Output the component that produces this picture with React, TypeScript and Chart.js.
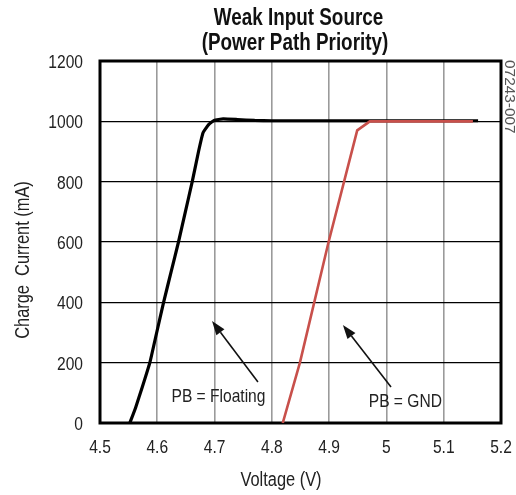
import React, { useEffect, useRef } from "react";
import { Chart, registerables } from "chart.js";

Chart.register(...registerables);

// ---- data ----
const floatingVoltage = [4.552, 4.562, 4.574, 4.587, 4.599, 4.611, 4.624, 4.637, 4.649, 4.661, 4.672, 4.680, 4.690, 4.699, 4.715, 4.740, 4.770, 4.800, 5.160];
const floatingCurrent = [0, 50, 120, 200, 300, 400, 500, 600, 700, 800, 900, 963, 990, 1003, 1008, 1006, 1003, 1002, 1002];

const gndVoltage = [4.819, 4.849, 4.899, 4.949, 4.971, 5.151];
const gndCurrent = [0, 200, 600, 970, 1000, 1000];

const xTickValues = [4.5, 4.6, 4.7, 4.8, 4.9, 5.0, 5.1, 5.2];
const xTickLabels = ["4.5", "4.6", "4.7", "4.8", "4.9", "5", "5.1", "5.2"];
const yTickValues = [0, 200, 400, 600, 800, 1000, 1200];
const yTickLabels = ["0", "200", "400", "600", "800", "1000", "1200"];

const titleLines = ["Weak Input Source", "(Power Path Priority)"];
const xTitle = "Voltage (V)";
const yTitle = "Charge  Current (mA)";
const figureCode = "07243-007";

const annotationLabels = ["PB = Floating", "PB = GND"];
const annotationLabelX = [4.7068, 5.033];
const annotationLabelY = [70, 53];
const arrowTipX = [4.6955, 4.924];
const arrowTipY = [338, 325];
const arrowTailX = [4.7757, 5.008];
const arrowTailY = [136, 119];

const FONT = "'Liberation Sans', Arial, sans-serif";
const NARROW = 0.82;

const toPoints = (xs: number[], ys: number[]) => xs.map((x, i) => ({ x, y: ys[i] }));

function narrowText(ctx: CanvasRenderingContext2D, text: string, x: number, y: number, rot = 0, sx = NARROW) {
  ctx.save();
  ctx.translate(x, y);
  if (rot) ctx.rotate(rot);
  ctx.scale(sx, 1);
  ctx.fillText(text, 0, 0);
  ctx.restore();
}

const decorPlugin = {
  id: "decor",
  beforeDatasetsDraw(chart: any) {
    const { ctx, chartArea } = chart;
    ctx.save();
    ctx.strokeStyle = "#000";
    ctx.lineWidth = 3;
    ctx.strokeRect(chartArea.left, chartArea.top, chartArea.right - chartArea.left, chartArea.bottom - chartArea.top);
    ctx.restore();
  },
  afterDraw(chart: any) {
    const { ctx, chartArea } = chart;
    const xs = chart.scales.x;
    const ys = chart.scales.y;
    ctx.save();
    // title
    ctx.fillStyle = "#111";
    ctx.textAlign = "center";
    ctx.textBaseline = "alphabetic";
    ctx.font = `bold 23px ${FONT}`;
    narrowText(ctx, titleLines[0], 298.5, 25);
    narrowText(ctx, titleLines[1], 295, 50);
    // tick labels
    ctx.fillStyle = "#222";
    ctx.font = `19px ${FONT}`;
    ctx.textAlign = "center";
    xTickValues.forEach((v, i) => {
      narrowText(ctx, xTickLabels[i], xs.getPixelForValue(v), chartArea.bottom + 30);
    });
    ctx.textAlign = "right";
    yTickValues.forEach((v, i) => {
      narrowText(ctx, yTickLabels[i], chartArea.left - 17, ys.getPixelForValue(v) + 7);
    });
    // axis titles
    ctx.textAlign = "center";
    ctx.font = `20px ${FONT}`;
    narrowText(ctx, xTitle, 281, 486);
    narrowText(ctx, yTitle, 29, 260, -Math.PI / 2);
    // figure code
    ctx.fillStyle = "#555";
    ctx.font = `14px ${FONT}`;
    ctx.textAlign = "left";
    narrowText(ctx, figureCode, 505, 60, Math.PI / 2, 1.1);
    // annotations
    ctx.textAlign = "center";
    ctx.font = `19px ${FONT}`;
    for (let i = 0; i < annotationLabels.length; i++) {
      ctx.fillStyle = "#222";
      narrowText(ctx, annotationLabels[i], xs.getPixelForValue(annotationLabelX[i]), ys.getPixelForValue(annotationLabelY[i]));
      const tx = xs.getPixelForValue(arrowTipX[i]);
      const ty = ys.getPixelForValue(arrowTipY[i]);
      const sx = xs.getPixelForValue(arrowTailX[i]);
      const sy = ys.getPixelForValue(arrowTailY[i]);
      const ang = Math.atan2(ty - sy, tx - sx);
      const len = 14;
      const hw = 5;
      const bx = tx - len * Math.cos(ang);
      const by = ty - len * Math.sin(ang);
      ctx.strokeStyle = "#111";
      ctx.lineWidth = 1.6;
      ctx.beginPath();
      ctx.moveTo(sx, sy);
      ctx.lineTo(bx, by);
      ctx.stroke();
      ctx.fillStyle = "#111";
      ctx.beginPath();
      ctx.moveTo(tx, ty);
      ctx.lineTo(bx + hw * Math.sin(ang), by - hw * Math.cos(ang));
      ctx.lineTo(bx - hw * Math.sin(ang), by + hw * Math.cos(ang));
      ctx.closePath();
      ctx.fill();
    }
    ctx.restore();
  },
};

export default function App() {
  const canvasRef = useRef<HTMLCanvasElement | null>(null);

  useEffect(() => {
    document.body.style.margin = "0";
    const canvas = canvasRef.current;
    if (!canvas) return;
    const chart = new Chart(canvas, {
      type: "scatter",
      data: {
        datasets: [
          {
            label: "PB = GND",
            data: toPoints(gndVoltage, gndCurrent),
            showLine: true,
            borderColor: "#c8504b",
            borderWidth: 2.6,
            pointRadius: 0,
            tension: 0,
            order: 0,
          },
          {
            label: "PB = Floating",
            data: toPoints(floatingVoltage, floatingCurrent),
            showLine: true,
            borderColor: "#000",
            borderWidth: 3.2,
            pointRadius: 0,
            tension: 0.12,
            order: 1,
          },
        ],
      },
      options: {
        responsive: false,
        animation: false,
        layout: { padding: { left: 0, top: 61, right: 15, bottom: 0 } },
        plugins: {
          legend: { display: false },
          title: { display: false },
          tooltip: { enabled: false },
        },
        scales: {
          x: {
            type: "linear",
            min: 4.5,
            max: 5.2,
            afterFit: (s: any) => {
              s.height = 72;
              s.paddingLeft = 0;
              s.paddingRight = 0;
            },
            afterBuildTicks: (s: any) => {
              s.ticks = xTickValues.map((v) => ({ value: v }));
            },
            ticks: { display: false },
            grid: { color: "#9a9a9a", lineWidth: 1.6, drawTicks: false },
            border: { display: false },
          },
          y: {
            type: "linear",
            min: 0,
            max: 1200,
            afterFit: (s: any) => {
              s.width = 100;
              s.paddingTop = 0;
              s.paddingBottom = 0;
            },
            afterBuildTicks: (s: any) => {
              s.ticks = yTickValues.map((v) => ({ value: v }));
            },
            ticks: { display: false },
            grid: { color: "#000", lineWidth: 1.3, drawTicks: false },
            border: { display: false },
          },
        },
      },
      plugins: [decorPlugin],
    });
    return () => chart.destroy();
  }, []);

  return (
    <div style={{ width: 516, height: 495, background: "#fff" }}>
      <canvas ref={canvasRef} width={516} height={495} />
    </div>
  );
}
